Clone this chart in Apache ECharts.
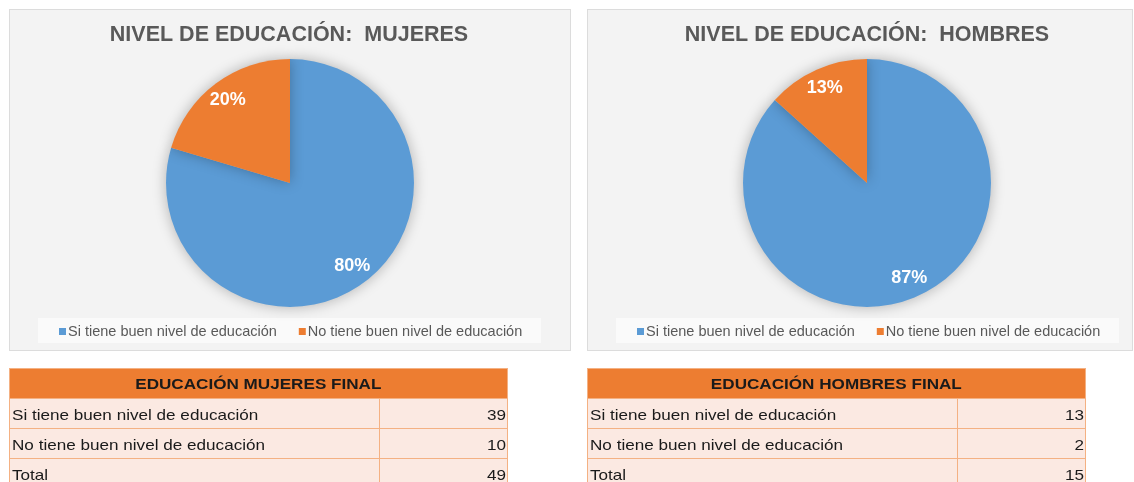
<!DOCTYPE html>
<html>
<head>
<meta charset="utf-8">
<script src="https://cdn.jsdelivr.net/npm/echarts@6/dist/echarts.min.js"></script>
<style>
  html, body { margin: 0; padding: 0; background: #ffffff; width: 1134px; height: 482px; overflow: hidden; font-family: "Liberation Sans", Arial, sans-serif; }
  .panel { position: absolute; top: 9px; height: 342px; background: #f3f3f3; border: 1px solid #dcdcdc; box-sizing: border-box; }
  .legbox { position: absolute; top: 318px; height: 25px; background: #fafafa; }
  #chart { position: absolute; left: 0; top: 0; width: 1134px; height: 482px; }
  table.t { position: absolute; top: 368px; border-collapse: collapse; font-family: "Liberation Sans", Arial, sans-serif; font-size: 14.5px; color: #1a1a1a; table-layout: fixed; }
  table.t td { height: 29px; padding: 0 2px; border: 1px solid #f4b183; background: #fbe9e2; white-space: nowrap; overflow: visible; }
  table.t td span { display: inline-block; transform: scaleX(1.18); transform-origin: left center; padding-top: 3px; }
  table.t td.h { background: #ed7d31; font-weight: bold; text-align: center; border-color: #f4b183; }
  table.t td.h span { transform-origin: center center; padding-top: 1px; }
  table.t td.n { text-align: right; padding-right: 1px; }
  table.t td.n span { transform-origin: right center; }
</style>
</head>
<body>
<div class="panel" style="left:9px; width:562px;"></div>
<div class="panel" style="left:587px; width:546px;"></div>
<div class="legbox" style="left:38px; width:503px;"></div>
<div class="legbox" style="left:616px; width:503px;"></div>
<div id="chart"></div>
<table class="t" id="tm" style="left:9px; width:498px;"></table>
<table class="t" id="th" style="left:587px; width:498px;"></table>
<script>
// ---- data ----
const categories = ['Si tiene buen nivel de educación', 'No tiene buen nivel de educación'];
const mujeresValues = [39, 10];
const hombresValues = [13, 2];
const titleMujeres = 'NIVEL DE EDUCACIÓN:  MUJERES';
const titleHombres = 'NIVEL DE EDUCACIÓN:  HOMBRES';
const tableTitleMujeres = 'EDUCACIÓN MUJERES FINAL';
const tableTitleHombres = 'EDUCACIÓN HOMBRES FINAL';
const totalLabel = 'Total';
const colors = ['#5b9bd5', '#ed7d31'];

function toData(vals) {
  return categories.map((c, i) => ({ name: c, value: vals[i] }));
}

function pieSeries(vals, cx) {
  return [
    {
      type: 'pie', center: [cx, 183], radius: [0, 124], startAngle: 90, clockwise: true,
      data: toData(vals), label: { show: false }, labelLine: { show: false },
      itemStyle: { shadowBlur: 14, shadowColor: 'rgba(0,0,0,0.28)', borderWidth: 0 },
      emphasis: { disabled: true }, silent: true, animation: false
    },
    {
      type: 'pie', center: [cx, 183], radius: [78, 124], startAngle: 90, clockwise: true,
      data: toData(vals),
      itemStyle: { color: 'rgba(0,0,0,0)' },
      label: {
        show: true, position: 'inside', formatter: p => Math.round(p.percent) + '%', color: '#ffffff',
        fontSize: 18, fontWeight: 'bold', fontFamily: 'Liberation Sans, Arial, sans-serif'
      },
      labelLine: { show: false }, emphasis: { disabled: true }, silent: true, animation: false
    }
  ];
}

const chart = echarts.init(document.getElementById('chart'), null, { renderer: 'canvas' });
const titleStyle = { color: '#595959', fontSize: 21.5, fontWeight: 'bold', fontFamily: 'Liberation Sans, Arial, sans-serif' };
const legendCommon = {
  data: categories, top: 319, icon: 'rect', itemWidth: 7, itemHeight: 7, itemGap: 22,
  textStyle: { color: '#595959', fontSize: 14.5, fontFamily: 'Liberation Sans, Arial, sans-serif', padding: [0, 0, 0, -3] },
  selectedMode: false
};
chart.setOption({
  color: colors,
  animation: false,
  title: [
    { text: titleMujeres, left: 284, textAlign: 'center', top: 19, textStyle: titleStyle },
    { text: titleHombres, left: 862, textAlign: 'center', top: 19, textStyle: titleStyle }
  ],
  legend: [
    Object.assign({}, legendCommon, { left: 54 }),
    Object.assign({}, legendCommon, { left: 632 })
  ],
  series: [...pieSeries(mujeresValues, 290), ...pieSeries(hombresValues, 867)]
});

function buildTable(id, title, vals) {
  const t = document.getElementById(id);
  const total = vals.reduce((a, b) => a + b, 0);
  let html = '<colgroup><col style="width:370px"><col style="width:128px"></colgroup>';
  html += '<tr><td class="h" colspan="2"><span>' + title + '</span></td></tr>';
  categories.forEach((c, i) => { html += '<tr><td><span>' + c + '</span></td><td class="n"><span>' + vals[i] + '</span></td></tr>'; });
  html += '<tr><td><span>' + totalLabel + '</span></td><td class="n"><span>' + total + '</span></td></tr>';
  t.innerHTML = html;
}
buildTable('tm', tableTitleMujeres, mujeresValues);
buildTable('th', tableTitleHombres, hombresValues);
</script>
</body>
</html>
